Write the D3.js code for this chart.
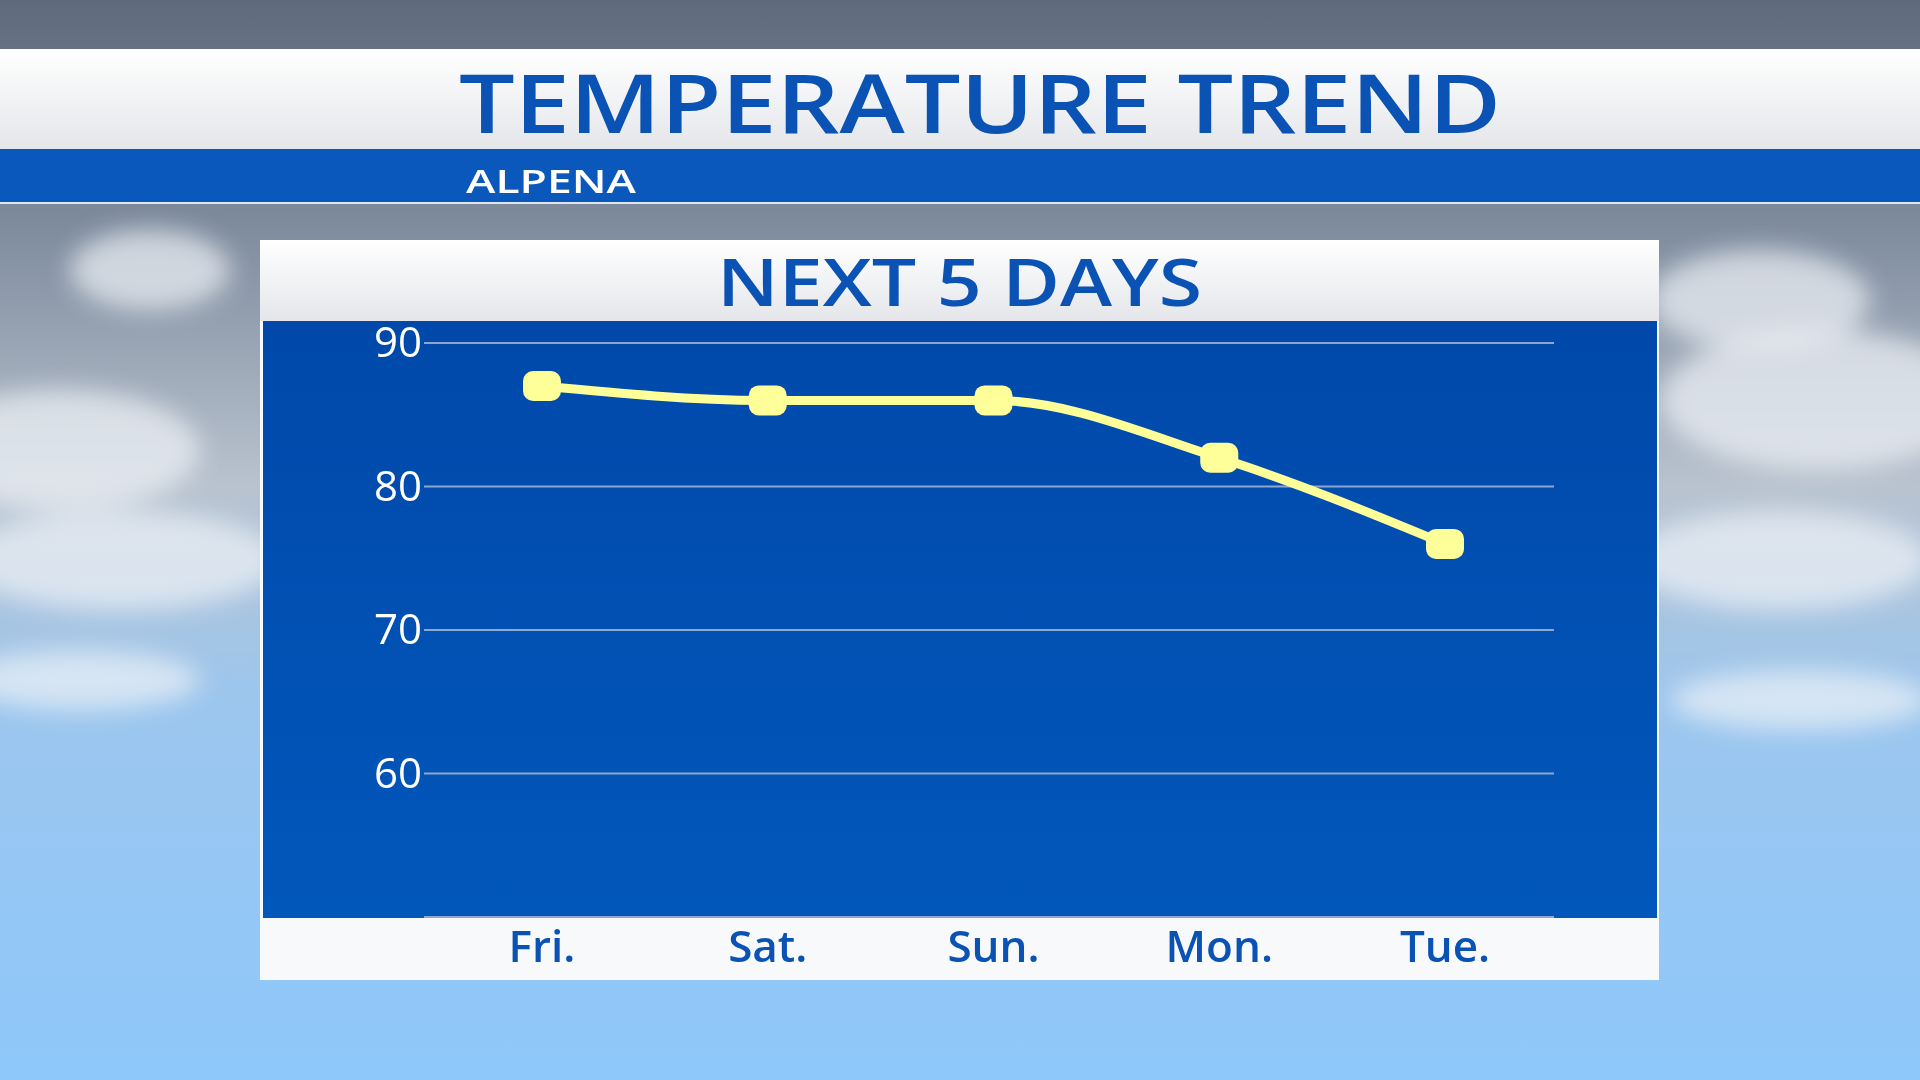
<!DOCTYPE html>
<html><head><meta charset="utf-8">
<script src="https://cdn.jsdelivr.net/npm/d3@7"></script>
<style>body{margin:0;overflow:hidden}svg{display:block}</style>
</head><body>
<svg id="c" width="1920" height="1080"></svg>
<script>
const days = ["Fri.","Sat.","Sun.","Mon.","Tue."];
const temps = [87,86,86,82,76];
const yTicks = [60,70,80,90];
const title = "TEMPERATURE TREND";
const subtitle = "ALPENA";
const panelTitle = "NEXT 5 DAYS";

const svg = d3.select("#c");
const defs = svg.append("defs");
const sky = defs.append("linearGradient").attr("id","sky").attr("x1",0).attr("x2",0).attr("y1",0).attr("y2",1);
[[0,"#5f6b7c"],[0.2,"#7d8a9c"],[0.45,"#b9c3cf"],[0.65,"#9cc6ee"],[1,"#8ec8fb"]].forEach(([o,c])=>sky.append("stop").attr("offset",o).attr("stop-color",c));
const plotG = defs.append("linearGradient").attr("id","plot").attr("x1",0).attr("x2",0).attr("y1",0).attr("y2",1);
plotG.append("stop").attr("offset",0).attr("stop-color","#0049aa");
plotG.append("stop").attr("offset",1).attr("stop-color","#0257bb");
const wh = defs.append("linearGradient").attr("id","wh").attr("x1",0).attr("x2",0).attr("y1",0).attr("y2",1);
wh.append("stop").attr("offset",0).attr("stop-color","#ffffff");
wh.append("stop").attr("offset",1).attr("stop-color","#e4e6ea");
defs.append("filter").attr("id","blur").append("feGaussianBlur").attr("stdDeviation",12);

svg.append("rect").attr("width",1920).attr("height",1080).attr("fill","url(#sky)");
const clouds=[[60,450,140,60],[120,560,160,50],[1820,400,160,70],[1780,560,150,50],[80,680,120,30],[1800,700,130,30],[150,270,80,40],[1760,300,110,50]];
svg.append("g").attr("filter","url(#blur)").selectAll("ellipse").data(clouds).join("ellipse").attr("cx",d=>d[0]).attr("cy",d=>d[1]).attr("rx",d=>d[2]).attr("ry",d=>d[3]).attr("fill","#eef2f6").attr("opacity",0.7);

svg.append("rect").attr("x",0).attr("y",49).attr("width",1920).attr("height",100).attr("fill","url(#wh)");
svg.append("rect").attr("x",0).attr("y",149).attr("width",1920).attr("height",55).attr("fill","#0a58bb");
svg.append("rect").attr("x",0).attr("y",202).attr("width",1920).attr("height",2).attr("fill","#dfe7f2");
svg.append("text").attr("x",459).attr("y",133).attr("textLength",1042).attr("lengthAdjust","spacingAndGlyphs")
  .attr("font-family","Open Sans, Lato, sans-serif").attr("font-weight",600).attr("font-size",82).attr("fill","#0a52b4").text(title);
svg.append("text").attr("x",466).attr("y",193).attr("textLength",170).attr("lengthAdjust","spacingAndGlyphs")
  .attr("font-family","Open Sans, Lato, sans-serif").attr("font-weight",600).attr("font-size",32).attr("fill","#ffffff").text(subtitle);

svg.append("rect").attr("x",260).attr("y",240).attr("width",1399).attr("height",740).attr("fill","#f8f9fa");
svg.append("rect").attr("x",260).attr("y",240).attr("width",1399).attr("height",81).attr("fill","url(#wh)");
svg.append("text").attr("x",717).attr("y",306).attr("textLength",485).attr("lengthAdjust","spacingAndGlyphs")
  .attr("font-family","Open Sans, Lato, sans-serif").attr("font-weight",600).attr("font-size",66).attr("fill","#0a52b4").text(panelTitle);
svg.append("rect").attr("x",263).attr("y",321).attr("width",1394).attr("height",597).attr("fill","url(#plot)");

const x = d3.scalePoint().domain(days).range([542,1445]);
const y = d3.scaleLinear().domain([50,90]).range([917,343]);

svg.append("g").selectAll("line").data(yTicks.concat([50])).join("line")
  .attr("x1",424).attr("x2",1554).attr("y1",d=>y(d)).attr("y2",d=>y(d))
  .attr("stroke","#8fa7cf").attr("stroke-width",2);
svg.append("g").selectAll("text").data(yTicks).join("text")
  .attr("x",422).attr("y",d=>y(d)+14).attr("text-anchor","end")
  .attr("font-family","Open Sans, Lato, sans-serif").attr("font-weight",500).attr("font-size",42).attr("fill","#ffffff").text(d=>d);
svg.append("g").selectAll("text").data(days).join("text")
  .attr("x",d=>x(d)).attr("y",962).attr("text-anchor","middle")
  .attr("font-family","Open Sans, Lato, sans-serif").attr("font-weight",600).attr("font-size",44).attr("fill","#0a52b4").text(d=>d);

const line = d3.line().x((d,i)=>x(days[i])).y(d=>y(d)).curve(d3.curveMonotoneX);
svg.append("path").datum(temps).attr("d",line).attr("fill","none").attr("stroke","#ffff99").attr("stroke-width",9);
svg.append("g").selectAll("rect").data(temps).join("rect")
  .attr("x",(d,i)=>x(days[i])-19).attr("y",d=>y(d)-15).attr("width",38).attr("height",30).attr("rx",10)
  .attr("fill","#ffff99");
</script>
</body></html>
